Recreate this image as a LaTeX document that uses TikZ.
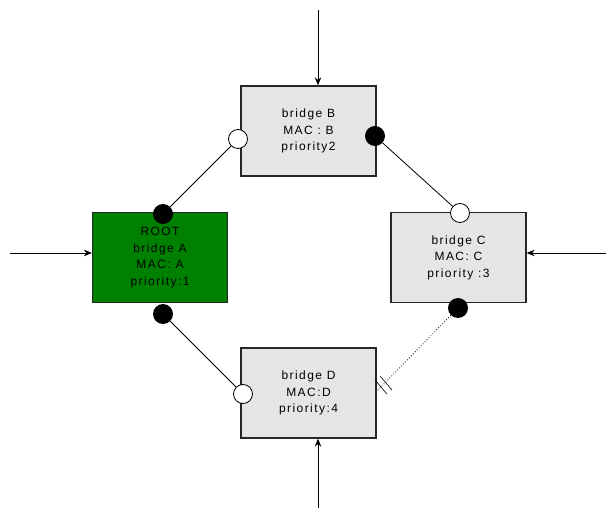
\documentclass[tikz,border=0pt]{standalone}
\usepackage{fontspec}
\setmainfont{Liberation Sans}[LetterSpace=12]
\usetikzlibrary{arrows,arrows.meta}

\begin{document}
\begin{tikzpicture}[x=1pt,y=-1pt,>={Stealth[length=8pt,width=6.5pt]},line width=0.8pt,
  bridge/.style={draw=black!85,line width=1.3pt,fill=black!10,minimum width=135pt,
    minimum height=90pt,align=center,font=\fontsize{12}{16.5}\selectfont},
  root/.style={bridge,fill=green!50!black},
  blocked/.style={circle,draw,line width=0.8pt,fill=white,inner sep=0pt,minimum size=19pt},
  forward/.style={circle,fill=black,inner sep=0pt,minimum size=20pt}]
  \useasboundingbox (0,0) rectangle (608,510);

  \node[bridge] (B) at (308.5,131)   {bridge B\\MAC : B\\priority2};
  \node[root]   (A) at (160,257.5)   {ROOT\\bridge A\\MAC: A\\priority:1};
  \node[bridge] (C) at (458.5,257.5) {bridge C\\MAC: C\\priority :3};
  \node[bridge] (D) at (308.5,393)   {bridge D\\MAC:D\\priority:4};

  % ports
  \node[blocked] (pB1) at (238,139) {};
  \node[forward] (pB2) at (375,136) {};
  \node[forward] (pA1) at (163,214) {};
  \node[forward] (pA2) at (163,314) {};
  \node[blocked] (pC1) at (460,213) {};
  \node[forward] (pC2) at (458,308) {};
  \node[blocked] (pD1) at (243,394) {};
  \coordinate (pD2) at (377,391);

  \draw (pB1) -- (pA1)
        (pB2) -- (pC1)
        (pA2) -- (pD1);
  \draw[dotted] (pC2) -- (pD2);
  \draw[line width=0.6pt] (pD2) ++(4,-4) +(-6,-7) -- +(6,7)
                          (pD2) ++(9,-8) +(-6,-7) -- +(6,7);

  % incoming links
  \coordinate (inB) at (318,10);
  \coordinate (inA) at (10,253);
  \coordinate (inC) at (606,253);
  \coordinate (inD) at (318,508);
  \draw[->] (inB) -- (inB |- B.north);
  \draw[->] (inA) -- (inA -| A.west);
  \draw[->] (inC) -- (inC -| C.east);
  \draw[->] (inD) -- (inD |- D.south);
\end{tikzpicture}
\end{document}
